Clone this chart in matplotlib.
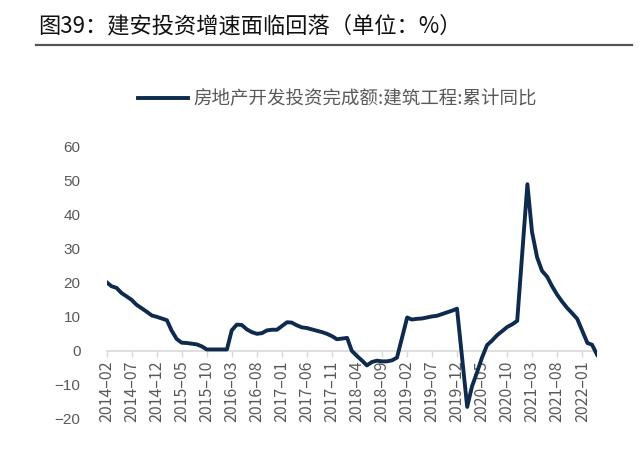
import matplotlib
matplotlib.use("Agg")
import matplotlib.pyplot as plt
from matplotlib.lines import Line2D
import pandas as pd

plt.rcParams['font.family'] = ['Noto Sans CJK SC', 'DejaVu Sans']

# monthly cumulative yoy, January not published
months = [f"{y}-{m:02d}" for y in range(2014, 2023) for m in range(2, 13)]
months = months[:months.index("2022-04") + 1]

values = [
    # 2014 Feb-Dec
    20.1, 19.0, 18.5, 17.0, 16.0, 15.0, 13.5, 12.5, 11.5, 10.4, 10.0,
    # 2015
    9.0, 6.0, 3.5, 2.4, 2.3, 2.1, 1.9, 1.3, 0.4, 0.4, 0.4,
    # 2016
    0.4, 6.0, 7.7, 7.6, 6.3, 5.5, 5.0, 5.2, 6.0, 6.2, 6.2,
    # 2017
    8.4, 8.3, 7.5, 6.9, 6.7, 6.3, 5.9, 5.5, 5.0, 4.3, 3.4,
    # 2018
    3.8, 0.0, -1.5, -2.8, -4.3, -3.3, -2.9, -3.1, -3.1, -2.8, -2.0,
    # 2019
    9.8, 9.2, 9.4, 9.5, 9.8, 10.1, 10.3, 10.8, 11.3, 11.8, 12.4,
    # 2020
    -16.5, -10.5, -6.3, -2.0, 1.7, 3.0, 4.6, 5.8, 7.0, 7.8, 8.8,
    # 2021
    49.0, 35.0, 27.5, 23.5, 21.8, 19.0, 16.5, 14.4, 12.6, 11.0, 9.4,
    # 2022
    2.3, 1.8, -1.2,
]

tick_labels = ["2014-02", "2014-07", "2014-12", "2015-05", "2015-10",
               "2016-03", "2016-08", "2017-01", "2017-06", "2017-11",
               "2018-04", "2018-09", "2019-02", "2019-07", "2019-12",
               "2020-05", "2020-10", "2021-03", "2021-08", "2022-01"]

series_name = "房地产开发投资完成额:建筑工程:累计同比"
title = "图39：建安投资增速面临回落（单位：%）"

dates = pd.to_datetime(months)
tick_dates = pd.to_datetime(tick_labels)

fig = plt.figure(figsize=(6.4, 4.69), dpi=100)
ax = fig.add_axes([0.167, 0.107, 0.766, 0.58])

line, = ax.plot(dates, values, color="#0e2a4d", lw=2.8,
                solid_joinstyle="round", label=series_name, zorder=5)

ax.set_ylim(-20, 60)
ax.set_yticks(range(-20, 61, 10))
ax.set_xlim(dates[0], dates[-1])
ax.set_xticks(tick_dates)
ax.set_xticklabels([t.replace("-", "–") for t in tick_labels])
ax.tick_params(axis="y", length=0, pad=19, labelsize=11, labelcolor="#595959")
ax.tick_params(axis="x", length=4, width=1, color="#d9d9d9", pad=3,
               labelsize=11.5, labelcolor="#595959", labelrotation=90)
for lab in ax.get_xticklabels() + ax.get_yticklabels():
    lab.set_family(["Liberation Sans", "DejaVu Sans"])
for lab in ax.get_xticklabels():
    lab.set_verticalalignment("top")
    lab.set_horizontalalignment("center")

for s in ["left", "top", "right"]:
    ax.spines[s].set_visible(False)
ax.spines["bottom"].set_position(("data", 0))
ax.spines["bottom"].set_color("#d9d9d9")
ax.spines["bottom"].set_linewidth(1.2)

fig.legend(handles=[line], loc="center", bbox_to_anchor=(0.527, 0.788),
           frameon=False, fontsize=13.3, handlelength=2.7, handletextpad=0.3,
           labelcolor="#595959")

fig.text(0.059, 0.945, title, fontsize=16, va="center", ha="left", color="#111111")
fig.add_artist(Line2D([0.056, 0.988], [0.904, 0.904], transform=fig.transFigure,
                      color="#555555", lw=1.6))

fig.savefig("out.png", dpi=100)
